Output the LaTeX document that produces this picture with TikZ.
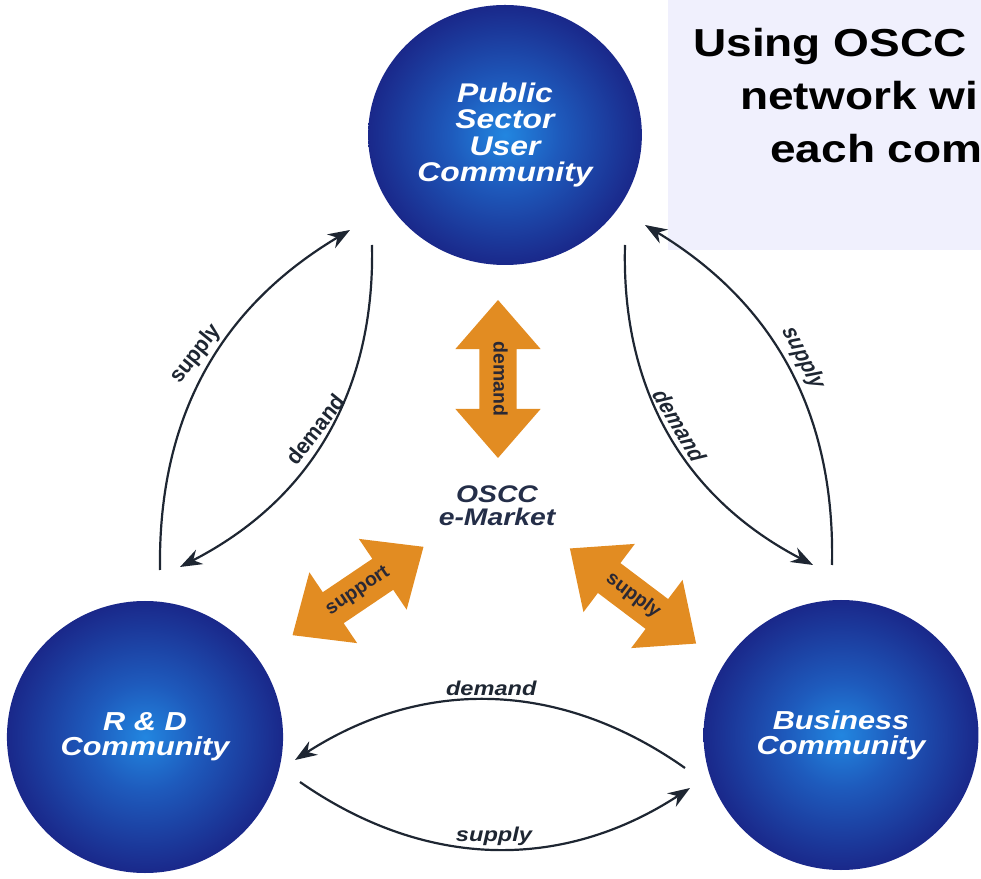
\documentclass[tikz,border=0pt]{standalone}
\usepackage{fontspec}
\setmainfont{Liberation Sans}
\usetikzlibrary{shapes.geometric,shapes.arrows,arrows.meta}

\definecolor{orbcore}{RGB}{34,134,224}
\definecolor{orbmid}{RGB}{30,90,188}
\definecolor{orbedge}{RGB}{26,40,138}
\definecolor{flowink}{RGB}{30,38,50}
\definecolor{tradeorange}{RGB}{226,140,34}
\definecolor{tradeink}{RGB}{42,40,52}
\definecolor{marketnavy}{RGB}{36,46,72}
\definecolor{boxlav}{RGB}{240,240,253}
\pgfdeclareradialshading{orbshade}{\pgfpoint{0bp}{0bp}}{color(0bp)=(orbcore); color(10bp)=(orbmid); color(25bp)=(orbedge); color(50bp)=(orbedge)}

\begin{document}
\begin{tikzpicture}[x=1pt,y=1pt,
  orb/.style={ellipse, shading=orbshade, inner sep=0pt, align=center, text=white,
    font=\bfseries\itshape\fontsize{27}{26.5}\selectfont, xscale=1.18},
  trade/.style={double arrow, fill=tradeorange, text=tradeink,
    double arrow head extend=24pt, double arrow tip angle=82,
    minimum height=158pt, text height=13pt, text depth=4pt,
    inner ysep=10pt, inner xsep=0pt, font=\bfseries\fontsize{19.5}{19.5}\selectfont},
  flow/.style={line width=2.2pt, draw=flowink, -{Stealth[length=22pt,width=16pt]}},
  flowlbl/.style={font=\bfseries\itshape\fontsize{20}{20}\selectfont, text=flowink,
    inner sep=3pt, xscale=1.18},
  goalbox/.style={fill=boxlav, minimum width=313pt, minimum height=250pt, inner sep=0pt},
  goaltext/.style={anchor=base west, inner sep=0pt, font=\bfseries\fontsize{39}{39}\selectfont, xscale=1.18}]
\useasboundingbox (0,0) rectangle (981,878);

% Goal box, cut at the right edge
\node[goalbox, anchor=north west] (goal) at (668,878) {};
\node[goaltext] (goal1) at (693,821) {Using OSCC};
\node[goaltext] (goal2) at (740,768) {network wi};
\node[goaltext] (goal3) at (770,715) {each com};

% Communities
\node[orb, minimum width=232pt, minimum height=260pt] (pub) at (505,743) {Public\\Sector\\User\\Community};
\node[orb, minimum width=234pt, minimum height=272pt, font=\bfseries\itshape\fontsize{26}{25}\selectfont] (rnd) at (145,141) {R \& D\\Community};
\node[orb, minimum width=233pt, minimum height=270pt, font=\bfseries\itshape\fontsize{26}{25}\selectfont] (biz) at (841,143) {Business\\Community};

% e-Market in the middle
\node[align=center, text=marketnavy, font=\bfseries\itshape\fontsize{24}{23}\selectfont, xscale=1.18] (oscc) at (497,372) {OSCC\\e-Market};
\node[trade, rotate=-90] (tdemand) at (498,499) {demand};
\node[trade, rotate=34] (tsupport) at (358,287) {support};
\node[trade, rotate=-37] (tsupply) at (633,282) {supply};

% Ends of the flows
\coordinate (ls1) at (160,308);
\coordinate (ls2) at (350,648);
\coordinate (ld1) at (372,633);
\coordinate (ld2) at (180,311);
\coordinate (rd1) at (625,633);
\coordinate (rd2) at (813,313);
\coordinate (rs1) at (832,313);
\coordinate (rs2) at (645,653);
\coordinate (bd1) at (685,110);
\coordinate (bd2) at (295,118);
\coordinate (bs1) at (300,96);
\coordinate (bs2) at (690,90);

% Flows
\draw[flow] (ls1) to[bend left=30] node[flowlbl, pos=.52, above=4pt, rotate=57] (lsl) {supply} (ls2);
\draw[flow] (ld1) to[bend left=32] node[flowlbl, pos=.5, above, rotate=57] (ldl) {demand} (ld2);
\draw[flow] (rd1) to[bend right=32] node[flowlbl, pos=.49, above, rotate=-63] (rdl) {demand} (rd2);
\draw[flow] (rs1) to[bend right=30] node[flowlbl, pos=.5, above=4pt, rotate=-66] (rsl) {supply} (rs2);
\draw[flow] (bd1) to[bend right=34] node[flowlbl, pos=.5, above] (bdl) {demand} (bd2);
\draw[flow] (bs1) to[bend right=34] node[flowlbl, pos=.5, above=-1pt] (bsl) {supply} (bs2);
\end{tikzpicture}
\end{document}
